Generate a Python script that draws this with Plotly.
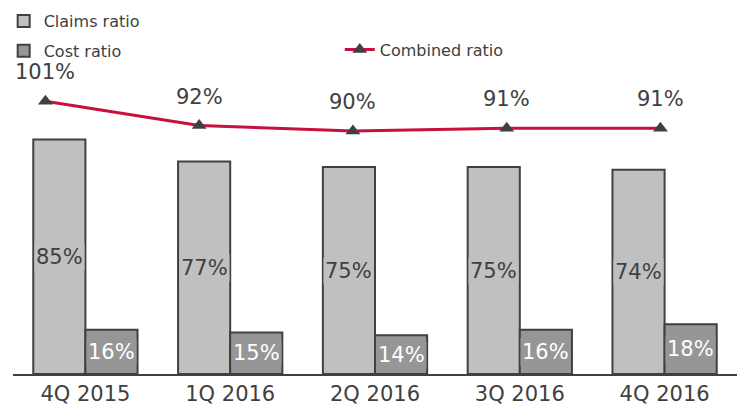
import plotly.graph_objects as go

categories = ["4Q 2015", "1Q 2016", "2Q 2016", "3Q 2016", "4Q 2016"]
claims_ratio = [85, 77, 75, 75, 74]
cost_ratio = [16, 15, 14, 16, 18]
combined_ratio = [101, 92, 90, 91, 91]

TXT = "#404040"
FONT = "DejaVu Sans, Verdana, sans-serif"
CLAIMS_C = "#c0c0c0"
COST_C = "#969696"
LINE_C = "#c8103e"

fig = go.Figure()
fig.add_trace(go.Bar(
    x=categories, y=claims_ratio, name="Claims ratio",
    marker=dict(color=CLAIMS_C, line=dict(color=TXT, width=2)),
    legend="legend", legendgroup="a",
))
fig.add_trace(go.Bar(
    x=categories, y=cost_ratio, name="Cost ratio",
    marker=dict(color=COST_C, line=dict(color=TXT, width=2)),
    legend="legend", legendgroup="b",
))
fig.add_trace(go.Scatter(
    x=categories, y=combined_ratio, name="Combined ratio",
    mode="lines+markers", xaxis="x2", yaxis="y2",
    line=dict(color=LINE_C, width=3),
    marker=dict(symbol="triangle-up", size=13, color=TXT),
    legend="legend2",
))

annotations = []
for i, (c, k) in enumerate(zip(claims_ratio, cost_ratio)):
    annotations.append(dict(
        x=i - 0.18, y=c / 2, xref="x", yref="y", text=f"{c}%",
        showarrow=False, bgcolor=CLAIMS_C, borderpad=1,
        font=dict(size=21, color=TXT, family=FONT),
    ))
    annotations.append(dict(
        x=i + 0.18, y=k / 2, xref="x", yref="y", text=f"{k}%",
        showarrow=False, bgcolor=COST_C, borderpad=1,
        font=dict(size=21, color="white", family=FONT),
    ))
for i, v in enumerate(combined_ratio):
    annotations.append(dict(
        x=i, y=v, xref="x2", yref="y2", text=f"{v}%",
        showarrow=False, yshift=29,
        font=dict(size=21, color=TXT, family=FONT),
    ))

fig.update_layout(
    width=737, height=409,
    margin=dict(l=13, r=0, t=20, b=35, autoexpand=False),
    paper_bgcolor="white", plot_bgcolor="white",
    barmode="group", bargap=0.28, bargroupgap=0,
    font=dict(family=FONT, color=TXT, size=16),
    xaxis=dict(
        type="category", range=[-0.5, 4.5],
        showline=True, linecolor=TXT, linewidth=2,
        showgrid=False, ticks="", tickangle=0,
        tickfont=dict(size=21, color=TXT),
    ),
    xaxis2=dict(
        type="category", range=[-0.211, 4.498], overlaying="x",
        visible=False,
    ),
    yaxis=dict(range=[0, 128.3], visible=False, showgrid=False),
    yaxis2=dict(range=[0, 131.1], visible=False, overlaying="y"),
    legend=dict(
        x=0.005, y=0.99, xref="container", yref="container",
        xanchor="left", yanchor="top", tracegroupgap=6,
        font=dict(size=16, color=TXT), bgcolor="rgba(0,0,0,0)",
    ),
    legend2=dict(
        x=0.461, y=0.92, xref="container", yref="container",
        xanchor="left", yanchor="top",
        font=dict(size=16, color=TXT), bgcolor="rgba(0,0,0,0)",
    ),
    annotations=annotations,
)

fig.write_html(
    "out.html",
    config={"displayModeBar": False},
    post_script="document.body.style.margin='0';",
)
